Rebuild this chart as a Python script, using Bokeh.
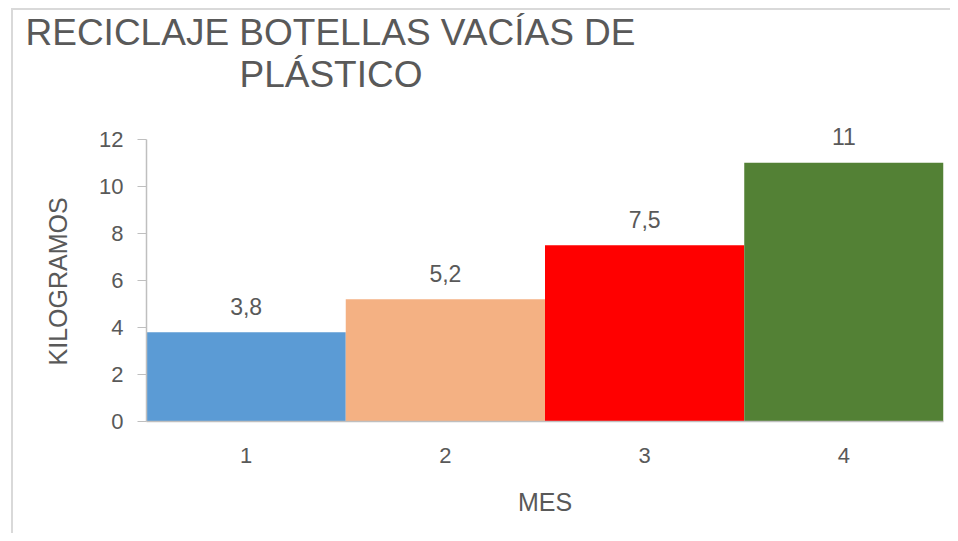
from bokeh.plotting import figure
from bokeh.models import ColumnDataSource, FixedTicker, Title
from bokeh.core.properties import value
from bokeh.embed import file_html
from bokeh.resources import INLINE

months = [1, 2, 3, 4]
month_labels = ["1", "2", "3", "4"]
kilograms = [3.8, 5.2, 7.5, 11]
value_labels = ["3,8", "5,2", "7,5", "11"]
bar_colors = ["#5b9bd5", "#f4b183", "#ff0000", "#538135"]
y_ticks = [0, 2, 4, 6, 8, 10, 12]
title_lines = ["RECICLAJE BOTELLAS VACÍAS DE", "PLÁSTICO"]

FONT = "Liberation Sans"
TXT = "#595959"

src = ColumnDataSource(dict(x=months, top=kilograms, color=bar_colors, lab=value_labels))

# y range a little above 12 so the top value label is not clipped; axis line stops at 12
p = figure(width=950, height=533, x_range=(0.5, 4.5), y_range=(0, 12.8), title=None,
           output_backend="svg", toolbar_location=None,
           min_border_left=146, min_border_right=7, min_border_top=120, min_border_bottom=112)
p.outline_line_color = None
p.grid.grid_line_color = None
p.background_fill_color = "white"
p.border_fill_color = None
p.styles = {
    "background": "linear-gradient(#d9d9d9,#d9d9d9) 11px 8px / 2px calc(100% - 8px) no-repeat, "
                  "linear-gradient(#d9d9d9,#d9d9d9) 11px 8px / calc(100% - 11px) 2px no-repeat, #ffffff"
}

p.vbar(x="x", top="top", bottom=0, width=1.0, color="color", line_color=None, source=src)
p.text(x="x", y="top", text="lab", source=src, text_align="center", text_baseline="alphabetic",
       y_offset=-26, text_font=value(FONT), text_font_size="23px", text_color=TXT)

# axes
p.yaxis.ticker = FixedTicker(ticks=y_ticks)
p.yaxis.bounds = (y_ticks[0], y_ticks[-1])
p.xaxis.ticker = FixedTicker(ticks=months)
p.xaxis.major_label_overrides = {m: l for m, l in zip(months, month_labels)}
for ax in (p.xaxis, p.yaxis):
    ax.axis_line_color = "#bfbfbf"
    ax.axis_line_width = 1.5
    ax.major_label_text_font = FONT
    ax.major_label_text_font_size = "22px"
    ax.major_label_text_color = TXT
    ax.axis_label_text_font = FONT
    ax.axis_label_text_font_size = "25px"
    ax.axis_label_text_color = TXT
    ax.axis_label_text_font_style = "normal"
    ax.minor_tick_line_color = None
p.yaxis.major_tick_line_color = "#bfbfbf"
p.yaxis.major_tick_out = 9
p.yaxis.major_tick_in = 0
p.yaxis.major_label_standoff = 14
p.xaxis.major_tick_line_color = None
p.xaxis.major_tick_out = 0
p.xaxis.major_tick_in = 0
p.xaxis.major_label_standoff = 26
p.xaxis.axis_label = "MES"
# trailing no-break spaces centre the visible word on the 0-12 span rather than the frame
p.yaxis.axis_label = "KILOGRAMOS" + "\u00a0" * 3
p.xaxis.axis_label_standoff = 22
p.yaxis.axis_label_standoff = 24

# title: two lines, nearest-to-frame added first
p.add_layout(Title(text=title_lines[1], align="left", offset=93, standoff=51,
                   text_font=FONT, text_font_size="37px", text_font_style="normal",
                   text_color=TXT), "above")
p.add_layout(Title(text=title_lines[0], align="left", offset=-121, standoff=-52,
                   text_font=FONT, text_font_size="37px", text_font_style="normal",
                   text_color=TXT), "above")

open("out.html", "w").write(file_html(p, INLINE))
